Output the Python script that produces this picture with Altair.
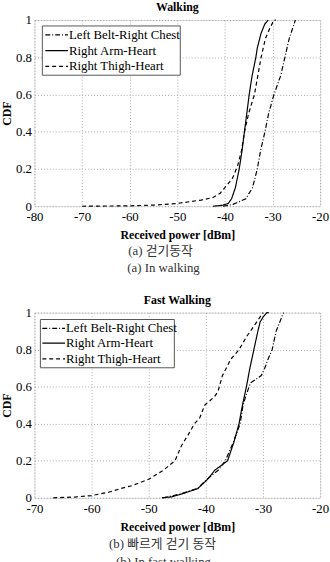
import altair as alt
import pandas as pd

SERIF = "Liberation Serif, Times New Roman, serif"
SERIES = ["Left Belt-Right Chest", "Right Arm-Heart", "Right Thigh-Heart"]
DASHES = [[5, 2, 1, 2], [1, 0], [4, 3]]

# ---- Walking: received power [dBm] and CDF per link ----
walk_belt_x = [-40.4, -38.3, -35.6, -34.2, -33.2, -32.5, -31.6, -30.8, -29.7, -28.3, -27.4, -26.5, -25.2]
walk_belt_y = [0.0, 0.01, 0.04, 0.1, 0.2, 0.3, 0.4, 0.5, 0.6, 0.7, 0.8, 0.9, 1.0]

walk_arm_x = [-42.5, -40.5, -39.3, -38.6, -37.8, -37.0, -36.4, -35.9, -35.4, -34.9, -34.3, -33.5, -33.2, -32.4, -31.6, -30.9]
walk_arm_y = [0.0, 0.005, 0.015, 0.04, 0.1, 0.2, 0.3, 0.4, 0.5, 0.6, 0.7, 0.8, 0.85, 0.93, 0.98, 1.0]

walk_thigh_x = [-70, -60, -55, -50, -45, -42.5, -41, -40, -38.4, -37.3, -36.5, -35.9, -35.0, -33.8, -33.1, -32.4, -31.5, -30.5, -29.7, -29.3]
walk_thigh_y = [0.0, 0.002, 0.006, 0.015, 0.033, 0.047, 0.07, 0.1, 0.15, 0.22, 0.3, 0.4, 0.5, 0.6, 0.7, 0.8, 0.9, 0.96, 1.0, 1.0]

# ---- Fast walking ----
fast_belt_x = [-47.5, -44.5, -41.5, -39.8, -37.8, -36.6, -35.2, -34.0, -33.5, -33.0, -32.2, -30.3, -29.7, -29.1, -28.4, -27.7, -26.4]
fast_belt_y = [0.0, 0.02, 0.05, 0.1, 0.15, 0.2, 0.3, 0.4, 0.5, 0.55, 0.62, 0.66, 0.7, 0.75, 0.8, 0.9, 1.0]

fast_arm_x = [-47.7, -46.0, -44.3, -41.4, -39.7, -38.4, -36.2, -35.1, -34.2, -33.6, -32.9, -32.3, -31.6, -30.9, -30.5, -29.9, -29.3, -29.0]
fast_arm_y = [0.0, 0.005, 0.02, 0.05, 0.1, 0.15, 0.2, 0.3, 0.4, 0.5, 0.6, 0.7, 0.8, 0.9, 0.95, 0.98, 1.0, 1.0]

fast_thigh_x = [-66.7, -63, -60, -57, -54.9, -53, -50, -47.4, -45.4, -44.3, -43.1, -42, -41.1, -40.2, -38.5, -37.9, -37.1, -35.6, -34.2, -32.8, -31.6, -30.2, -30.0]
fast_thigh_y = [0.0, 0.004, 0.012, 0.03, 0.05, 0.065, 0.1, 0.15, 0.2, 0.28, 0.34, 0.4, 0.43, 0.5, 0.546, 0.573, 0.66, 0.75, 0.8, 0.874, 0.927, 0.99, 1.0]

X_TICKS_WALK = [-80, -70, -60, -50, -40, -30, -20]
X_TICKS_FAST = [-70, -60, -50, -40, -30, -20]
Y_TICKS = [0, 0.2, 0.4, 0.6, 0.8, 1]


def frame(series_list):
    rows = []
    for name, xs, ys in series_list:
        for i, (x, y) in enumerate(zip(xs, ys)):
            rows.append({"series": name, "power": x, "cdf": y, "idx": i})
    return pd.DataFrame(rows)


dash_scale = alt.Scale(domain=SERIES, range=DASHES)


def panel(df, title, ticks, captions, legend_rows, legend_box, line_x, text_x, height):
    x_axis = alt.Axis(
        values=ticks, labelExpr="'' + datum.value", title="Received power [dBm]",
        grid=True, ticks=False, domain=False,
        labelFont=SERIF, labelFontSize=13, labelColor="black", labelPadding=5,
        labelFlush=False, labelOverlap=False,
        titleFont=SERIF, titleFontSize=12, titleFontWeight="bold", titleColor="black", titlePadding=6,
        gridDash=[1, 2], gridColor="#999999", gridWidth=0.8,
    )
    y_axis = alt.Axis(
        values=Y_TICKS, labelExpr="'' + datum.value", title="CDF", grid=True, ticks=False, domain=False,
        labelFont=SERIF, labelFontSize=13, labelColor="black", labelPadding=3,
        labelFlush=False, labelOverlap=False,
        titleFont=SERIF, titleFontSize=12, titleFontWeight="bold", titleColor="black",
        titleX=-28, titleY=height / 2, titleAngle=270, titleAlign="center", titleBaseline="middle",
        gridDash=[1, 2], gridColor="#999999", gridWidth=0.8,
    )
    lines = alt.Chart(df).mark_line(color="black", strokeWidth=1.2).encode(
        x=alt.X("power:Q", scale=alt.Scale(domain=[ticks[0], ticks[-1]], nice=False), axis=x_axis),
        y=alt.Y("cdf:Q", scale=alt.Scale(domain=[0, 1], nice=False), axis=y_axis),
        strokeDash=alt.StrokeDash("series:N", scale=dash_scale, legend=None),
        detail="series:N",
        order="idx:Q",
    )
    layers = [lines]

    # legend box, line samples and labels
    x0, x1, y0, y1 = legend_box
    layers.append(
        alt.Chart(alt.Data(values=[{"k": 1}])).mark_rect(
            fill="white", stroke="#555555", strokeWidth=1
        ).encode(x=alt.value(x0), x2=alt.value(x1), y=alt.value(y0), y2=alt.value(y1))
    )
    for name, ry in zip(SERIES, legend_rows):
        src = alt.Data(values=[{"series": name}])
        layers.append(
            alt.Chart(src).mark_rule(color="black", strokeWidth=1.2).encode(
                x=alt.value(line_x[0]), x2=alt.value(line_x[1]), y=alt.value(ry),
                strokeDash=alt.StrokeDash("series:N", scale=dash_scale, legend=None),
            )
        )
        layers.append(
            alt.Chart(src).mark_text(
                align="left", baseline="middle", font=SERIF, fontSize=13, color="black"
            ).encode(x=alt.value(text_x), y=alt.value(ry), text="series:N")
        )

    # sub-figure captions below the axis
    for text, cx, cy in captions:
        layers.append(
            alt.Chart(alt.Data(values=[{"t": text}])).mark_text(
                align="center", baseline="middle", font="Liberation Serif, Noto Sans CJK KR, serif",
                fontSize=13, color="#333333"
            ).encode(x=alt.value(cx), y=alt.value(cy), text="t:N")
        )

    return alt.layer(*layers).properties(
        width=290, height=height,
        title=alt.TitleParams(title, font=SERIF, fontSize=12, fontWeight="bold",
                              color="black", offset=0, anchor="middle"),
    )


walk_df = frame([
    (SERIES[0], walk_belt_x, walk_belt_y),
    (SERIES[1], walk_arm_x, walk_arm_y),
    (SERIES[2], walk_thigh_x, walk_thigh_y),
])
fast_df = frame([
    (SERIES[0], fast_belt_x, fast_belt_y),
    (SERIES[1], fast_arm_x, fast_arm_y),
    (SERIES[2], fast_thigh_x, fast_thigh_y),
])

top = panel(
    walk_df, "Walking", X_TICKS_WALK,
    captions=[("(a)  걷기동작", 128, 235), ("(a)  In  walking", 131, 252)],
    legend_rows=[15, 31, 47], legend_box=(8, 148, 6, 56), line_x=(11, 34), text_x=35,
    height=189,
)
bottom = panel(
    fast_df, "Fast Walking", X_TICKS_FAST,
    captions=[("(b)  빠르게  걷기  동작", 130, 235), ("(b)  In  fast  walking", 131, 253)],
    legend_rows=[16, 31, 47], legend_box=(6, 142, 7, 56), line_x=(8, 31), text_x=32,
    height=188,
)

chart = alt.vconcat(top, bottom, spacing=108, bounds="flush").resolve_scale(
    x="independent", y="independent"
).properties(
    autosize=alt.AutoSizeParams(type="pad"),
    padding={"left": 0, "top": -4, "right": 0, "bottom": 0},
).configure_view(
    stroke="#777777", strokeWidth=1.3
).configure(background="white")

chart.save("out.html", embed_options={"renderer": "svg", "actions": False})
